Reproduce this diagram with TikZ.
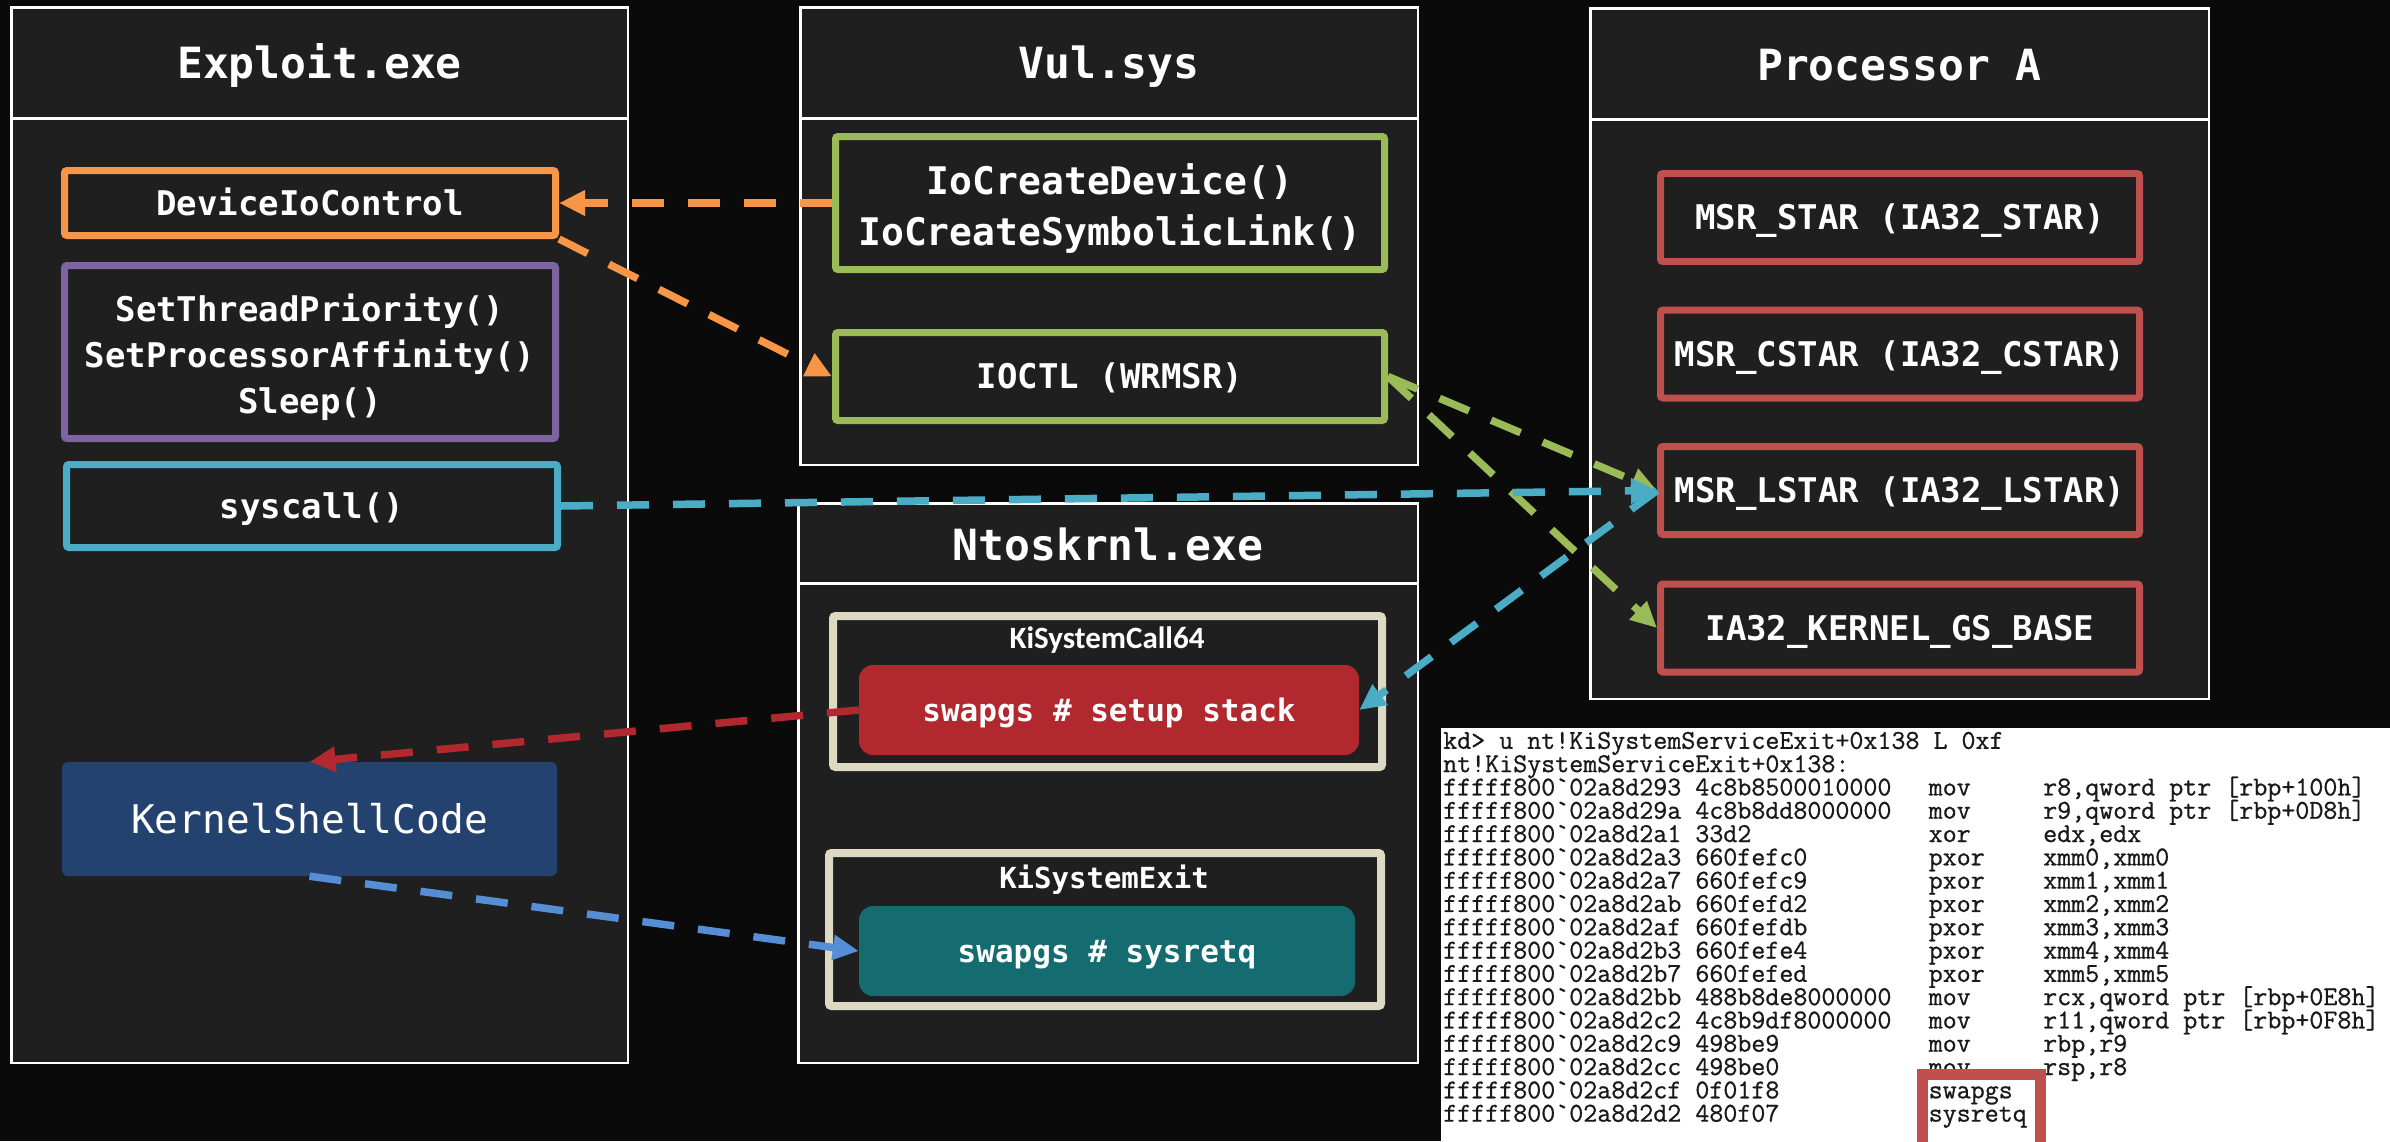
\documentclass[tikz,border=0pt]{standalone}
\usepackage{fontspec}
\newfontfamily\codefont{Latin Modern Mono}[FakeBold=0.8]
\newfontfamily\dmono{DejaVu Sans Mono}
\newfontfamily\carl{Carlito}
\usetikzlibrary{arrows.meta}
\definecolor{bg}{HTML}{0A0A0A}
\definecolor{boxfill}{HTML}{1F1F1F}
\definecolor{cOrange}{HTML}{F79646}
\definecolor{cPurple}{HTML}{8064A2}
\definecolor{cCyan}{HTML}{4BACC6}
\definecolor{cGreen}{HTML}{9BBB59}
\definecolor{cRed}{HTML}{C0504D}
\definecolor{cBeige}{HTML}{DDD9C3}
\definecolor{cSwap}{HTML}{B1282E}
\definecolor{cTeal}{HTML}{146B70}
\definecolor{cNavy}{HTML}{24426F}
\definecolor{cBlue}{HTML}{558ED5}
\tikzset{
  container/.style={draw=white, line width=2.5pt, fill=boxfill, inner sep=0pt},
  titletxt/.style={text=white, inner sep=0pt, text height=31.4pt, text depth=0pt,
    font=\dmono\bfseries\fontsize{43}{50}\selectfont},
  hdrline/.style={draw=white, line width=3pt},
  ibox/.style={draw=#1, line width=7pt, fill=boxfill, inner sep=0pt, rounded corners=2.5pt,
    text=white, align=center, font=\dmono\bfseries\fontsize{34}{46}\selectfont},
  onel/.style={text height=24.8pt, text depth=0pt},
  multitxt/.style={text=white, inner sep=0pt, align=center},
  fnbox/.style={draw=cBeige, line width=8pt, fill=boxfill, inner sep=0pt, rounded corners=2.5pt},
  fillbox/.style={fill=#1, draw=none, inner sep=0pt, rounded corners=14pt, text=white,
    text height=22.6pt, text depth=0pt, font=\dmono\bfseries\fontsize{31}{36}\selectfont},
  lbl/.style={text=white, inner sep=0pt, text depth=0pt},
  conn/.style={draw=#1, line width=7.5pt, dash pattern=on 32pt off 24pt,
    -{Triangle[length=26pt,width=24pt]}},
  codetxt/.style={anchor=base west, inner sep=0pt, text=black!90,
    font=\codefont\fontsize{27.2}{23.3}\selectfont},
}
\newcommand\codeln[4]{%
  \pgfmathsetmacro\cy{748.8+#1*23.3}%
  \node[codetxt] (ca#1) at (1443,\cy) {#2};
  \node[codetxt] (cm#1) at (1928.5,\cy) {#3};
  \node[codetxt] (co#1) at (2043,\cy) {#4};}
\begin{document}
\begin{tikzpicture}[x=1pt,y=-1pt]
\useasboundingbox (0,0) rectangle (2390,1141);
\fill[bg] (0,0) rectangle (2390,1141);

% containers
\node[container, minimum width=616.5pt, minimum height=1055.5pt] (exploit) at (319.5,535) {};
\node[container, minimum width=617.5pt, minimum height=457.5pt] (vul) at (1109,236) {};
\node[container, minimum width=619.5pt, minimum height=559.5pt] (ntos) at (1108,783) {};
\node[container, minimum width=618.5pt, minimum height=690.5pt] (proc) at (1899.5,353.5) {};
\draw[hdrline] (10,118) -- (629,118);
\draw[hdrline] (799,118) -- (1419,118);
\draw[hdrline] (797,583) -- (1419,583);
\draw[hdrline] (1589,119) -- (2210,119);
\node[titletxt] (tExploit) at (319.5,63) {Exploit.exe};
\node[titletxt] (tVul) at (1109,63) {Vul.sys};
\node[titletxt] (tProc) at (1899.5,65) {Processor A};
\node[titletxt] (tNtos) at (1108,545) {Ntoskrnl.exe};

% Exploit.exe
\node[ibox=cOrange, onel, minimum width=491pt, minimum height=65pt] (dic) at (310,203) {DeviceIoControl};
\node[ibox=cPurple, minimum width=491pt, minimum height=173pt] (prio) at (310,352) {};
\node[multitxt, font=\dmono\bfseries\fontsize{34}{46}\selectfont] (prioT) at (310,357)
  {SetThreadPriority()\\SetProcessorAffinity()\\Sleep()};
\node[ibox=cCyan, onel, minimum width=491pt, minimum height=83pt] (sys) at (312,506) {syscall()};
\node[fill=cNavy, draw=none, rounded corners=6pt, inner sep=0pt, minimum width=495pt, minimum height=114pt,
  text=white, text height=28.8pt, text depth=0pt, font=\dmono\fontsize{39.5}{44}\selectfont]
  (ksc) at (309.5,819) {KernelShellCode};

% Vul.sys
\node[ibox=cGreen, minimum width=549pt, minimum height=133pt] (vul1) at (1110,203) {};
\node[multitxt, font=\dmono\bfseries\fontsize{38}{51}\selectfont] (vul1T) at (1110,208)
  {IoCreateDevice()\\IoCreateSymbolicLink()};
\node[ibox=cGreen, onel, minimum width=549pt, minimum height=88pt] (ioctl) at (1110,376.5) {IOCTL (WRMSR)};

% Processor A
\node[ibox=cRed, onel, minimum width=479pt, minimum height=88pt] (star) at (1900,217.5) {MSR\_STAR (IA32\_STAR)};
\node[ibox=cRed, onel, minimum width=479pt, minimum height=88pt] (cstar) at (1900,354) {MSR\_CSTAR (IA32\_CSTAR)};
\node[ibox=cRed, onel, minimum width=479pt, minimum height=88pt] (lstar) at (1900,490.5) {MSR\_LSTAR (IA32\_LSTAR)};
\node[ibox=cRed, onel, minimum width=479pt, minimum height=88pt] (kgs) at (1900,628) {IA32\_KERNEL\_GS\_BASE};

% Ntoskrnl.exe
\node[fnbox, minimum width=549pt, minimum height=151pt] (kc64) at (1107.5,691.5) {};
\node[lbl, text height=20pt, font=\carl\bfseries\fontsize{31}{36}\selectfont] (lkc64) at (1107,638) {KiSystemCall64};
\node[fillbox=cSwap, minimum width=500pt, minimum height=90pt] (swap1) at (1109,710) {swapgs \# setup stack};
\node[fnbox, minimum width=552pt, minimum height=153pt] (kexit) at (1105,929.5) {};
\node[lbl, text height=21.2pt, font=\dmono\bfseries\fontsize{29}{34}\selectfont] (lkexit) at (1104,878) {KiSystemExit};
\node[fillbox=cTeal, minimum width=496pt, minimum height=90pt] (swap2) at (1107,951) {swapgs \# sysretq};

% connectors
\draw[conn=cOrange] (vul1.west) -- (dic.east);
\draw[conn=cOrange] (dic.south east) -- (ioctl.west);
\draw[conn=cGreen] (ioctl.east) -- (lstar.west);
\draw[conn=cGreen] (ioctl.east) -- (kgs.west);
\draw[conn=cCyan] (sys.east) -- (lstar.west);
\draw[conn=cCyan] (lstar.west) -- (swap1.east);
\draw[conn=cSwap] (swap1.west) -- (ksc.north);
\draw[conn=cBlue] (ksc.south) -- (swap2.west);

% code panel
\fill[white] (1441,728) rectangle (2400,1150);
\node[codetxt] (cl0) at (1443,748.8) {kd> u nt!KiSystemServiceExit+0x138 L 0xf};
\node[codetxt] (cl1) at (1443,772.1) {nt!KiSystemServiceExit+0x138:};
\codeln{2}{fffff800`02a8d293 4c8b8500010000}{mov}{r8,qword ptr [rbp+100h]}
\codeln{3}{fffff800`02a8d29a 4c8b8dd8000000}{mov}{r9,qword ptr [rbp+0D8h]}
\codeln{4}{fffff800`02a8d2a1 33d2}{xor}{edx,edx}
\codeln{5}{fffff800`02a8d2a3 660fefc0}{pxor}{xmm0,xmm0}
\codeln{6}{fffff800`02a8d2a7 660fefc9}{pxor}{xmm1,xmm1}
\codeln{7}{fffff800`02a8d2ab 660fefd2}{pxor}{xmm2,xmm2}
\codeln{8}{fffff800`02a8d2af 660fefdb}{pxor}{xmm3,xmm3}
\codeln{9}{fffff800`02a8d2b3 660fefe4}{pxor}{xmm4,xmm4}
\codeln{10}{fffff800`02a8d2b7 660fefed}{pxor}{xmm5,xmm5}
\codeln{11}{fffff800`02a8d2bb 488b8de8000000}{mov}{rcx,qword ptr [rbp+0E8h]}
\codeln{12}{fffff800`02a8d2c2 4c8b9df8000000}{mov}{r11,qword ptr [rbp+0F8h]}
\codeln{13}{fffff800`02a8d2c9 498be9}{mov}{rbp,r9}
\codeln{14}{fffff800`02a8d2cc 498be0}{mov}{rsp,r8}
\node[draw=cRed, line width=11pt, fill=white, inner sep=0pt, minimum width=118pt, minimum height=100pt]
  (hl) at (1981.5,1124.5) {};
\node[codetxt] (ca15) at (1443,1098.3) {fffff800`02a8d2cf 0f01f8};
\node[codetxt] (cm15) at (1928.5,1098.3) {swapgs};
\node[codetxt] (ca16) at (1443,1121.6) {fffff800`02a8d2d2 480f07};
\node[codetxt] (cm16) at (1928.5,1121.6) {sysretq};
\end{tikzpicture}
\end{document}
